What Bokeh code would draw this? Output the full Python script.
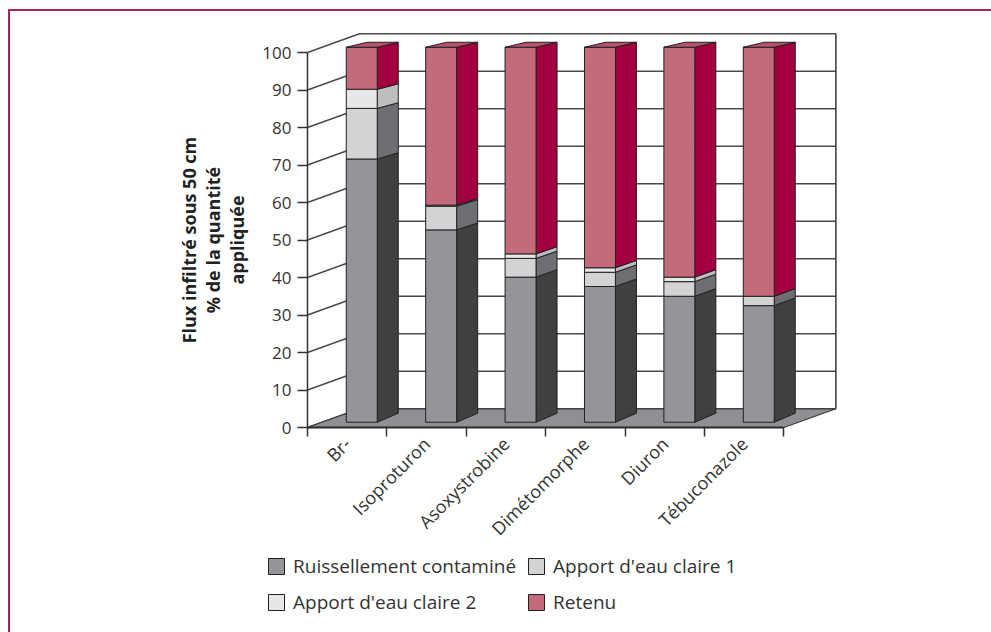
from math import pi
from bokeh.plotting import figure
from bokeh.models import Range1d, FixedTicker, Legend, LegendItem
from bokeh.embed import file_html
from bokeh.resources import INLINE

# ---------------- data ----------------
categories = ["Br-", "Isoproturon", "Asoxystrobine", "Dimétomorphe", "Diuron", "Tébuconazole"]
series_names = ["Ruissellement contaminé", "Apport d'eau claire 1", "Apport d'eau claire 2", "Retenu"]
ruissellement = [70.2, 51.3, 38.7, 36.2, 33.6, 31.1]
apport1 = [13.5, 6.3, 5.0, 3.8, 3.9, 2.5]
apport2 = [5.1, 0.3, 1.2, 1.2, 1.2, 0.0]
retenu = [11.2, 42.1, 55.1, 58.8, 61.3, 66.4]
y_ticks = [0, 10, 20, 30, 40, 50, 60, 70, 80, 90, 100]
y_title = "Flux infiltré sous 50 cm\n% de la quantité\nappliquée"

# ---------------- style ----------------
front_colors = ["#939598", "#D1D3D4", "#E6E7E8", "#C46B7B"]
side_colors = ["#404041", "#6D6E71", "#BCBEC0", "#A3003F"]
top_color = "#B5536B"
FONT = "Open Sans"
TXT = "#333333"
FRAME_RED = "#A8235A"

W, H = 991, 632
ORIGIN = (307, 427)   # pixel position of the front axes' origin
PX_CAT = 79.4         # px per category
PX_VAL = 3.75         # px per value unit
DX = 52 / PX_CAT      # depth offset (x units)
DY = 18.7 / PX_VAL    # depth offset (value units)
F0, F1 = 0.28, 0.684
HALF_W = 0.195
SIDE_DY_BOTTOM, SIDE_DY_TOP = 9.0, 5.0   # px rise of bar sides (slight perspective)

n = len(categories)
series = [ruissellement, apport1, apport2, retenu]


def side_rise(v):
    """vertical rise (value units) of a bar's side face at height v"""
    frac = v / y_ticks[-1]
    return (SIDE_DY_BOTTOM + (SIDE_DY_TOP - SIDE_DY_BOTTOM) * frac) / PX_VAL


p = figure(width=W, height=H, output_backend="svg", toolbar_location=None,
           x_range=Range1d(-ORIGIN[0] / PX_CAT, (W - ORIGIN[0]) / PX_CAT),
           y_range=Range1d(-(H - ORIGIN[1]) / PX_VAL, ORIGIN[1] / PX_VAL),
           min_border=0)
p.xgrid.visible = False
p.ygrid.visible = False
p.outline_line_color = None
p.border_fill_color = None
p.background_fill_color = None
p.styles = {
    "background-color": "white",
    "background-image": f"linear-gradient({FRAME_RED},{FRAME_RED}), linear-gradient({FRAME_RED},{FRAME_RED})",
    "background-size": "2px 100%, 100% 2px",
    "background-position": "8px 9px, 8px 9px",
    "background-repeat": "no-repeat",
}

# walls: back wall fill, side-wall diagonals + back gridlines
p.patch([DX, DX + n, DX + n, DX], [DY, DY, y_ticks[-1] + DY, y_ticks[-1] + DY],
        fill_color="white", line_color=None)
p.multi_line([[0, DX, DX + n] for v in y_ticks],
             [[v, v + DY, v + DY] for v in y_ticks],
             line_color="#4A4A4C", line_width=1.5)
p.line([DX + n, DX + n], [DY, y_ticks[-1] + DY], line_color="#333333", line_width=1.5)

# floor
p.patch([0, n, n + DX, DX], [0, 0, DY, DY], fill_color="#8F9093",
        line_color="#3A3A3A", line_width=1.2)

# bars
ddx = (F1 - F0) * DX
base = [0.0] * n
legend_items = []
for s, vals in enumerate(series):
    L, R, B, T = [], [], [], []
    sxs, sys = [], []
    for k in range(n):
        b = base[k]
        t = b + vals[k]
        base[k] = t
        if vals[k] <= 0:
            continue
        l = k + 0.5 - HALF_W + F0 * DX
        r = k + 0.5 + HALF_W + F0 * DX
        bb = b + F0 * DY
        tt = t + F0 * DY
        L.append(l); R.append(r); B.append(bb); T.append(tt)
        sxs.append([r, r + ddx, r + ddx, r])
        sys.append([bb, bb + side_rise(b), tt + side_rise(t), tt])
    p.patches(sxs, sys, fill_color=side_colors[s], line_color="#231F20", line_width=1)
    fr = p.quad(left=L, right=R, bottom=B, top=T, fill_color=front_colors[s],
                line_color="#231F20", line_width=1)
    legend_items.append(LegendItem(label=series_names[s], renderers=[fr]))

# top faces
txs, tys = [], []
for k in range(n):
    l = k + 0.5 - HALF_W + F0 * DX
    r = k + 0.5 + HALF_W + F0 * DX
    tt = base[k] + F0 * DY
    rise = side_rise(base[k])
    txs.append([l, r, r + ddx, l + ddx])
    tys.append([tt, tt, tt + rise, tt + rise])
p.patches(txs, tys, fill_color=top_color, line_color="#231F20", line_width=1)

# y axis (front, at x = 0)
ya = p.yaxis[0]
ya.fixed_location = 0
ya.bounds = (y_ticks[0], y_ticks[-1])
ya.ticker = FixedTicker(ticks=y_ticks)
ya.axis_line_color = "#333333"
ya.axis_line_width = 1.5
ya.major_tick_out = 10
ya.major_tick_in = 0
ya.major_tick_line_color = "#333333"
ya.major_tick_line_width = 1.5
ya.minor_tick_line_color = None
ya.major_label_text_font = FONT
ya.major_label_text_font_size = "17px"
ya.major_label_text_color = TXT
ya.major_label_standoff = 6
ya.axis_label = y_title
ya.axis_label_text_font = FONT
ya.axis_label_text_font_style = "bold"
ya.axis_label_text_font_size = "18px"
ya.axis_label_text_line_height = 1.0
ya.axis_label_text_color = "#222222"
ya.axis_label_standoff = 10

# x axis (front floor edge, at value 0)
xa = p.xaxis[0]
centers = [k + 0.5 for k in range(n)]
xa.fixed_location = 0
xa.bounds = (0, n)
xa.ticker = FixedTicker(ticks=centers, minor_ticks=list(range(n + 1)))
xa.major_label_overrides = {c: name for c, name in zip(centers, categories)}
xa.axis_line_color = "#2A2A2A"
xa.axis_line_width = 2
xa.major_tick_line_color = None
xa.major_tick_out = 0
xa.major_tick_in = 0
xa.minor_tick_line_color = "#333333"
xa.minor_tick_line_width = 1.5
xa.minor_tick_out = 9
xa.minor_tick_in = 0
xa.major_label_orientation = pi / 4
xa.major_label_standoff = 4
xa.major_label_text_font = FONT
xa.major_label_text_font_size = "18px"
xa.major_label_text_color = TXT

legend = Legend(items=legend_items, location=(266, 17), orientation="horizontal",
                ncols=2, glyph_width=20, glyph_height=20, label_height=20,
                label_standoff=7, spacing=10, padding=0, margin=0,
                label_text_font=FONT, label_text_font_size="19px",
                label_text_color=TXT, background_fill_alpha=0,
                border_line_color=None)
p.add_layout(legend, "center")

open("out.html", "w").write(file_html(p, INLINE))
